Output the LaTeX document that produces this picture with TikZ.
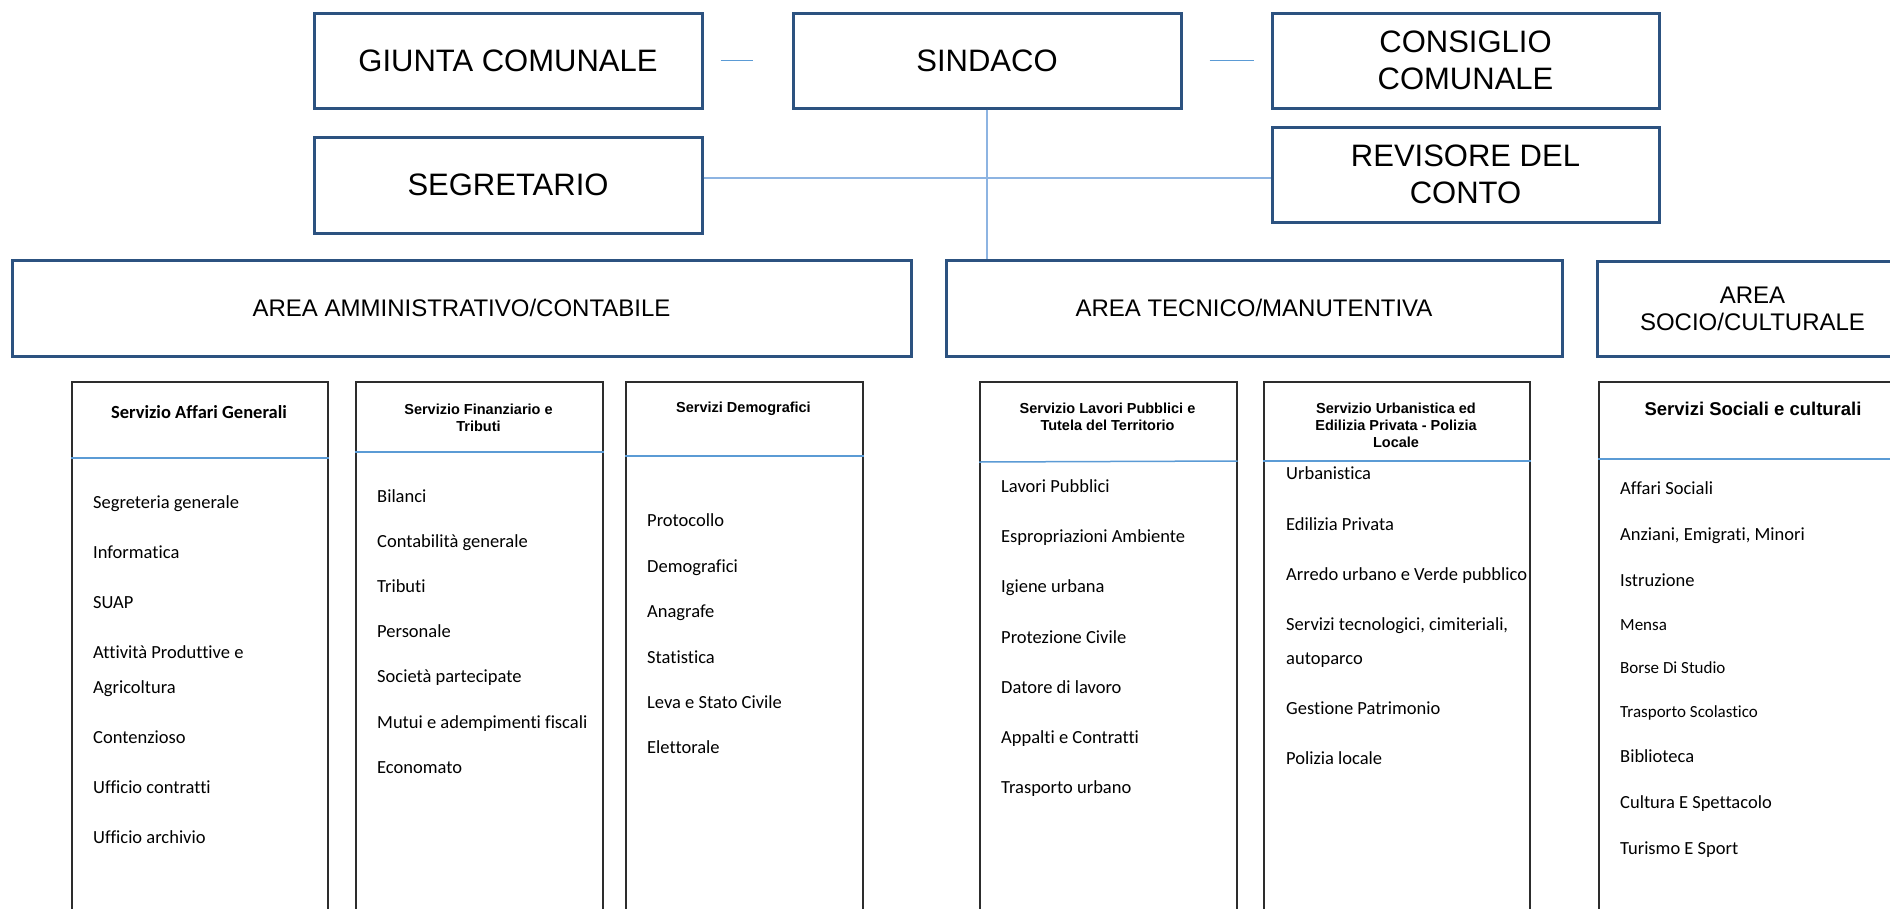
\documentclass[tikz,border=0pt]{standalone}
\usepackage{fontspec}
\setmainfont{Liberation Sans}
\newfontfamily\calfont[Ligatures=CommonOff]{Carlito}
\usetikzlibrary{calc}
\definecolor{topblue}{RGB}{44,82,128}
\definecolor{conn}{RGB}{141,180,226}
\definecolor{shortc}{RGB}{91,155,213}
\definecolor{sepc}{RGB}{91,155,213}
\definecolor{lbord}{RGB}{45,45,45}
\begin{document}
\begin{tikzpicture}[x=1pt,y=-1pt,
 topbox/.style={draw=topblue, line width=3pt, fill=white, inner sep=0pt, align=center, font=\fontsize{31}{37}\selectfont},
 areabox/.style={draw=topblue, line width=3pt, inner sep=0pt, align=center, minimum height=96pt, font=\fontsize{24}{27}\selectfont},
 listbox/.style={draw=lbord, line width=1.6pt, inner sep=0pt, anchor=north west, minimum height=560pt},
 hdr/.style={inner sep=0pt, align=center, font=\bfseries\fontsize{14.5}{16.7}\selectfont},
 hdrbig/.style={inner sep=0pt, align=center, font=\bfseries\fontsize{18.5}{22}\selectfont},
 hdrcal/.style={inner sep=0pt, align=center, font=\calfont\bfseries\fontsize{18.5}{22}\selectfont},
 item/.style={inner sep=0pt, anchor=west, text height=12pt, text depth=4pt, font=\calfont\fontsize{18.5}{22}\selectfont},
 itemsm/.style={item, text height=11pt, font=\calfont\fontsize{17}{20}\selectfont},
 sep/.style={draw=sepc, line width=1.5pt},
 conline/.style={draw=conn, line width=2pt},
 shortline/.style={draw=shortc, line width=1.5pt}]
\useasboundingbox (0,0) rectangle (1890,908);
\clip (0,0) rectangle (1890,908);
\fill[white] (0,0) rectangle (1890,908);

% top level
\node[topbox, minimum width=388pt, minimum height=95pt] (giunta) at (508,60.5) {GIUNTA COMUNALE};
\node[topbox, minimum width=388pt, minimum height=95pt] (sindaco) at (987,60.5) {SINDACO};
\node[topbox, minimum width=387pt, minimum height=95pt] (consiglio) at (1465.5,60.5) {CONSIGLIO\\COMUNALE};
\node[topbox, minimum width=388pt, minimum height=96pt] (segretario) at (508,185) {SEGRETARIO};
\node[topbox, minimum width=387pt, minimum height=95pt] (revisore) at (1465.5,174.5) {REVISORE DEL\\CONTO};

% areas
\node[areabox, minimum width=899pt] (amm) at (461.5,308) {AREA AMMINISTRATIVO/CONTABILE};
\node[areabox, minimum width=616pt] (tec) at (1254,308) {AREA TECNICO/MANUTENTIVA};
\node[areabox, minimum width=311pt, minimum height=95pt] (soc) at (1752.5,308.5) {AREA\\SOCIO/CULTURALE};

% connectors
\draw[shortline, shorten <=17pt, shorten >=39pt] (giunta.east) -- (sindaco.west);
\draw[shortline, shorten <=27pt, shorten >=17pt] (sindaco.east) -- (consiglio.west);
\draw[conline] (sindaco.south) -- (sindaco.south |- tec.north);
\coordinate (hl) at (987,178);
\draw[conline] (segretario.east |- hl) -- (revisore.west |- hl);

% service boxes
\node[listbox, minimum width=256pt] (b1) at (71,381) {};
\node[listbox, minimum width=247pt] (b2) at (355,381) {};
\node[listbox, minimum width=237pt] (b3) at (625,381) {};
\node[listbox, minimum width=257pt] (b4) at (979,381) {};
\node[listbox, minimum width=266pt] (b5) at (1263,381) {};
\node[listbox, minimum width=322pt] (b6) at (1598,381) {};

\draw[sep] ($(b1.north west)+(0,77)$) -- ($(b1.north east)+(0,77)$);
\draw[sep] ($(b2.north west)+(0,71)$) -- ($(b2.north east)+(0,71)$);
\draw[sep] ($(b3.north west)+(0,75)$) -- ($(b3.north east)+(0,75)$);
\draw[sep] ($(b4.north west)+(0,81)$) -- ($(b4.north east)+(0,80)$);
\draw[sep] ($(b5.north west)+(0,80)$) -- ($(b5.north east)+(0,80)$);
\draw[sep] ($(b6.north west)+(0,78)$) -- ($(b6.north east)+(0,78)$);

% headers
\node[hdrcal] (h1) at (199,412) {Servizio Affari Generali};
\node[hdr] (h2) at (478.5,417.5) {Servizio Finanziario e\\Tributi};
\node[hdr] (h3) at (743.5,409) {Servizi Demografici};
\node[hdr] (h4) at (1107.5,416.5) {Servizio Lavori Pubblici e\\Tutela del Territorio};
\node[hdr] (h5) at (1396,425.5) {Servizio Urbanistica ed\\Edilizia Privata - Polizia\\Locale};
\node[hdrbig] (h6) at (1753,409) {Servizi Sociali e culturali};

% box 1 items
\node[item] (a1) at (93,504) {Segreteria generale};
\node[item] (a2) at (93,554) {Informatica};
\node[item] (a3) at (93,604) {SUAP};
\node[item] (a4) at (93,654) {Attività Produttive e};
\node[item] (a5) at (93,689) {Agricoltura};
\node[item] (a6) at (93,739) {Contenzioso};
\node[item] (a7) at (93,789) {Ufficio contratti};
\node[item] (a8) at (93,839) {Ufficio archivio};

% box 2 items
\node[item] (c1) at (377,498) {Bilanci};
\node[item] (c2) at (377,543) {Contabilità generale};
\node[item] (c3) at (377,588) {Tributi};
\node[item] (c4) at (377,633) {Personale};
\node[item] (c5) at (377,678) {Società partecipate};
\node[item] (c6) at (377,724) {Mutui e adempimenti fiscali};
\node[item] (c7) at (377,769) {Economato};

% box 3 items
\node[item] (d1) at (647,522) {Protocollo};
\node[item] (d2) at (647,568) {Demografici};
\node[item] (d3) at (647,613) {Anagrafe};
\node[item] (d4) at (647,659) {Statistica};
\node[item] (d5) at (647,704) {Leva e Stato Civile};
\node[item] (d6) at (647,749) {Elettorale};

% box 4 items
\node[item] (e1) at (1001,488) {Lavori Pubblici};
\node[item] (e2) at (1001,538) {Espropriazioni Ambiente};
\node[item] (e3) at (1001,588) {Igiene urbana};
\node[item] (e4) at (1001,639) {Protezione Civile};
\node[item] (e5) at (1001,689) {Datore di lavoro};
\node[item] (e6) at (1001,739) {Appalti e Contratti};
\node[item] (e7) at (1001,789) {Trasporto urbano};

% box 5 items
\node[item] (f1) at (1286,475) {Urbanistica};
\node[item] (f2) at (1286,526) {Edilizia Privata};
\node[item] (f3) at (1286,576) {Arredo urbano e Verde pubblico};
\node[item] (f4) at (1286,626) {Servizi tecnologici, cimiteriali,};
\node[item] (f5) at (1286,660) {autoparco};
\node[item] (f6) at (1286,710) {Gestione Patrimonio};
\node[item] (f7) at (1286,760) {Polizia locale};

% box 6 items
\node[item] (g1) at (1620,490) {Affari Sociali};
\node[item] (g2) at (1620,536) {Anziani, Emigrati, Minori};
\node[item] (g3) at (1620,582) {Istruzione};
\node[itemsm] (g4) at (1620,627) {Mensa};
\node[itemsm] (g5) at (1620,670) {Borse Di Studio};
\node[itemsm] (g6) at (1620,714) {Trasporto Scolastico};
\node[item] (g7) at (1620,758) {Biblioteca};
\node[item] (g8) at (1620,804) {Cultura E Spettacolo};
\node[item] (g9) at (1620,850) {Turismo E Sport};
\end{tikzpicture}
\end{document}
